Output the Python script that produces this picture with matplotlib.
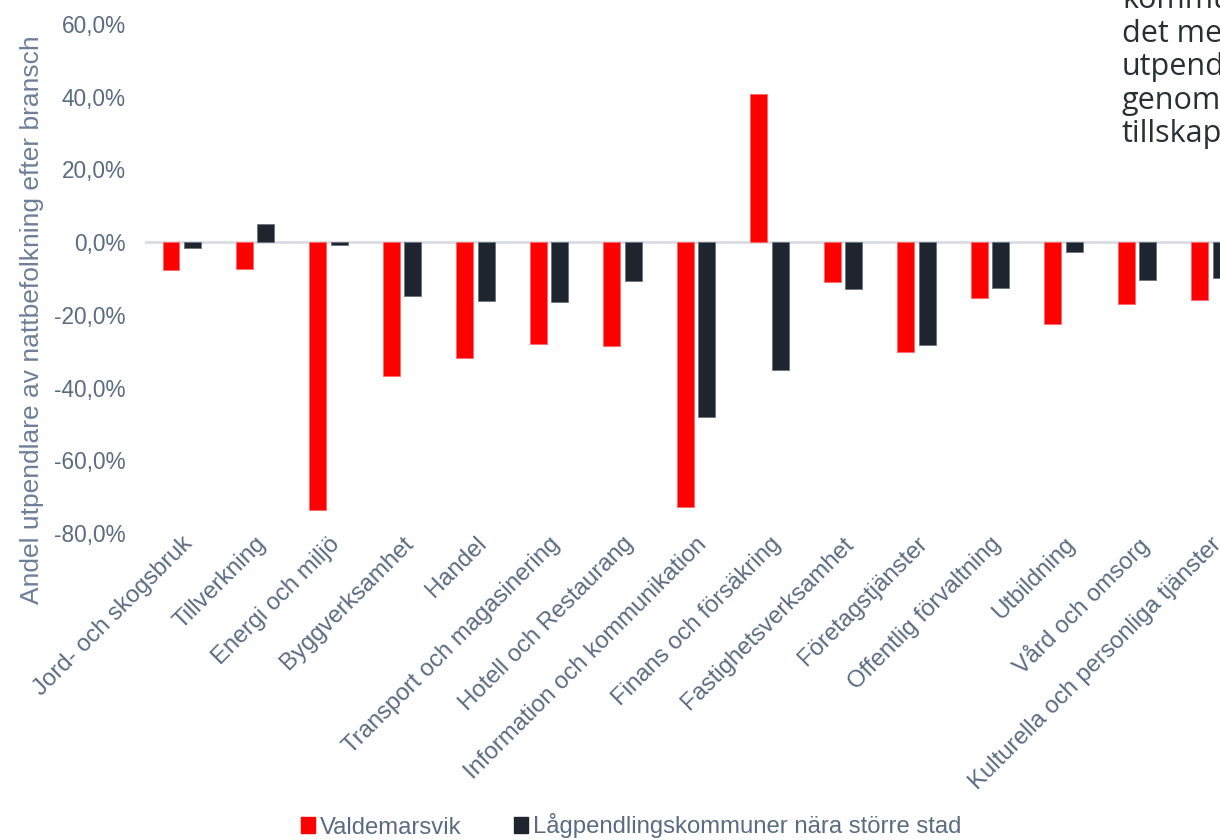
import matplotlib.pyplot as plt
import numpy as np
from matplotlib import transforms
from matplotlib.patches import Patch

plt.rcParams['font.family'] = ['Liberation Sans', 'DejaVu Sans']

categories = ['Jord- och skogsbruk', 'Tillverkning', 'Energi och miljö', 'Byggverksamhet',
              'Handel', 'Transport och magasinering', 'Hotell och Restaurang',
              'Information och kommunikation', 'Finans och försäkring', 'Fastighetsverksamhet',
              'Företagstjänster', 'Offentlig förvaltning', 'Utbildning', 'Vård och omsorg',
              'Kulturella och personliga tjänster']
valdemarsvik = [-7.7, -7.4, -73.6, -36.8, -31.9, -28.0, -28.6, -72.8, 40.7, -11.0,
                -30.2, -15.4, -22.5, -17.0, -15.9]
lagpendling = [-1.6, 4.9, -0.8, -14.8, -16.2, -16.5, -10.7, -48.1, -35.2, -12.9,
               -28.3, -12.6, -2.7, -10.4, -9.9]
yticks = [-80, -60, -40, -20, 0, 20, 40, 60]

red = '#ff0000'
dark = '#1f252e'
txt = '#5b6b82'

fig = plt.figure(figsize=(12.2, 8.4), dpi=100)
ax = fig.add_axes([145 / 1220, 1 - 533 / 840, 1102 / 1220, 509 / 840])

x = np.arange(len(categories))
w = 0.23
ax.bar(x - 0.146, valdemarsvik, w, color=red, edgecolor='#ff6666', linewidth=0.6,
       label='Valdemarsvik', zorder=3)
ax.bar(x + 0.146, lagpendling, w, color=dark, edgecolor='#6b7280', linewidth=0.6,
       label='Lågpendlingskommuner nära större stad', zorder=3)
ax.axhline(0, color='#d9dde3', lw=2, zorder=2)

ax.set_xlim(-0.5, len(categories) - 0.5)
ax.set_ylim(-80, 60)
ax.set_yticks(yticks)
ax.set_yticklabels([f'{v:.1f}%'.replace('.', ',') for v in yticks], fontsize=16.3, color=txt)
ax.set_xticks(x)
offset = transforms.ScaledTranslation(18 / 100, -13 / 100, fig.dpi_scale_trans)
ax.set_xticklabels(categories, rotation=45, ha='right', rotation_mode='anchor',
                   fontsize=17.2, color=txt)
for lbl in ax.get_xticklabels():
    lbl.set_transform(lbl.get_transform() + offset)
ax.tick_params(length=0)
ax.tick_params(axis='y', pad=14)
ax.tick_params(axis='x', pad=0)
for s in ax.spines.values():
    s.set_visible(False)

fig.text(32 / 1220, 1 - 320 / 840, 'Andel utpendlare av nattbefolkning efter bransch',
         rotation=90, ha='center', va='center', fontsize=19, color='#6d7f99')

# cropped text box at the top right
box_lines = ['kommunen', 'det mest', 'utpendlare', 'genomsnitt', 'tillskapa']
for i, line in enumerate(box_lines):
    fig.text(1122 / 1220, 1 - (0 + 33.5 * i) / 840, line, ha='left', va='center',
             fontsize=22, color='#2a2f36', family=['Open Sans', 'DejaVu Sans'])

handles = [Patch(color=red), Patch(color=dark)]
fig.legend(handles, ['Valdemarsvik', 'Lågpendlingskommuner nära större stad'],
           loc='center', bbox_to_anchor=(631 / 1220, 1 - 826 / 840), ncol=2,
           frameon=False, fontsize=17.2, labelcolor=txt, handlelength=0.6,
           handleheight=0.6, handletextpad=0.2, columnspacing=2.2)

fig.savefig('out.png', dpi=100)
